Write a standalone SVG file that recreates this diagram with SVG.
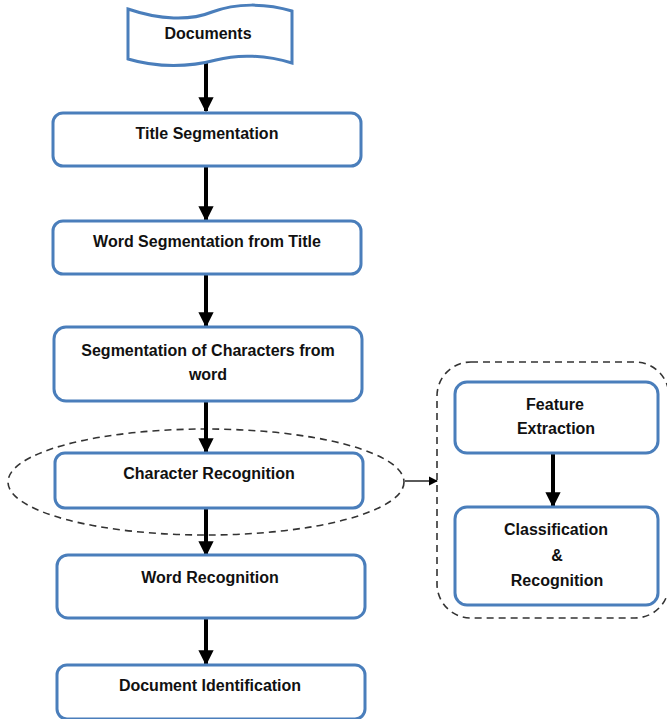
<svg xmlns="http://www.w3.org/2000/svg" width="667" height="719" viewBox="0 0 667 719">
  <style>
    .box { fill: #ffffff; stroke: #4a7ebb; stroke-width: 3; }
    .lbl { font-family: "Liberation Sans", Arial, sans-serif; font-weight: bold; font-size: 16px; fill: #111111; text-anchor: middle; }
    .flow { stroke: #000000; stroke-width: 4; fill: none; marker-end: url(#head); }
    .thin { stroke: #000000; stroke-width: 1.3; fill: none; marker-end: url(#small); }
    .dash { fill: none; stroke: #333333; stroke-width: 1.6; stroke-dasharray: 7 5; }
  </style>
  <defs>
    <marker id="head" viewBox="0 0 10 10" refX="9" refY="5" markerWidth="3.8" markerHeight="4.4" orient="auto" markerUnits="strokeWidth">
      <path d="M0,0 L10,5 L0,10 Z" fill="#000000"/>
    </marker>
    <marker id="small" viewBox="0 0 10 10" refX="9" refY="5" markerWidth="7" markerHeight="7" orient="auto" markerUnits="strokeWidth">
      <path d="M0,0 L10,5 L0,10 Z" fill="#000000"/>
    </marker>
  </defs>

  <rect width="667" height="719" fill="#ffffff"/>

  <!-- dashed group outlines -->
  <g id="groups">
    <ellipse class="dash" cx="206" cy="482" rx="198" ry="53"/>
    <rect class="dash" x="437" y="362" width="232" height="256" rx="34" ry="34"/>
  </g>

  <g id="connectors">
    <line class="flow" x1="206" y1="63" x2="206" y2="111"/>
    <line class="flow" x1="206" y1="167" x2="206" y2="220"/>
    <line class="flow" x1="206" y1="275" x2="206" y2="326"/>
    <line class="flow" x1="206" y1="402" x2="206" y2="452"/>
    <line class="flow" x1="206" y1="509" x2="206" y2="555"/>
    <line class="flow" x1="206" y1="619" x2="206" y2="664"/>
    <line class="flow" x1="553" y1="454" x2="553" y2="506"/>
    <line class="thin" x1="405" y1="481" x2="437" y2="481"/>
  </g>

  <g id="documents">
    <path class="box" d="M128,9 C160,20 190,21 212,12 C236,3 266,3 292,11 L292,63 C266,55 238,54 216,60 C190,67 158,68 128,59 Z"/>
    <text class="lbl" x="208" y="39">Documents</text>
  </g>

  <g id="title-segmentation">
    <rect class="box" x="53" y="113" width="308" height="53" rx="10"/>
    <text class="lbl" x="207" y="139">Title Segmentation</text>
  </g>

  <g id="word-segmentation">
    <rect class="box" x="53" y="221" width="308" height="53" rx="10"/>
    <text class="lbl" x="207" y="247">Word Segmentation from Title</text>
  </g>

  <g id="char-segmentation">
    <rect class="box" x="54" y="327" width="308" height="74" rx="12"/>
    <text class="lbl" x="208" y="356">Segmentation of Characters from</text>
    <text class="lbl" x="208" y="380">word</text>
  </g>

  <g id="character-recognition">
    <rect class="box" x="55" y="453" width="308" height="55" rx="10"/>
    <text class="lbl" x="209" y="479">Character Recognition</text>
  </g>

  <g id="word-recognition">
    <rect class="box" x="57" y="555" width="308" height="63" rx="11"/>
    <text class="lbl" x="210" y="583">Word Recognition</text>
  </g>

  <g id="document-identification">
    <rect class="box" x="57" y="665" width="308" height="54" rx="10"/>
    <text class="lbl" x="210" y="691">Document Identification</text>
  </g>

  <g id="feature-extraction">
    <rect class="box" x="455" y="382" width="203" height="71" rx="12"/>
    <text class="lbl" x="555" y="410">Feature</text>
    <text class="lbl" x="556" y="434">Extraction</text>
  </g>

  <g id="classification">
    <rect class="box" x="455" y="507" width="203" height="98" rx="12"/>
    <text class="lbl" x="556" y="535">Classification</text>
    <text class="lbl" x="557" y="561">&amp;</text>
    <text class="lbl" x="557" y="586">Recognition</text>
  </g>
</svg>
